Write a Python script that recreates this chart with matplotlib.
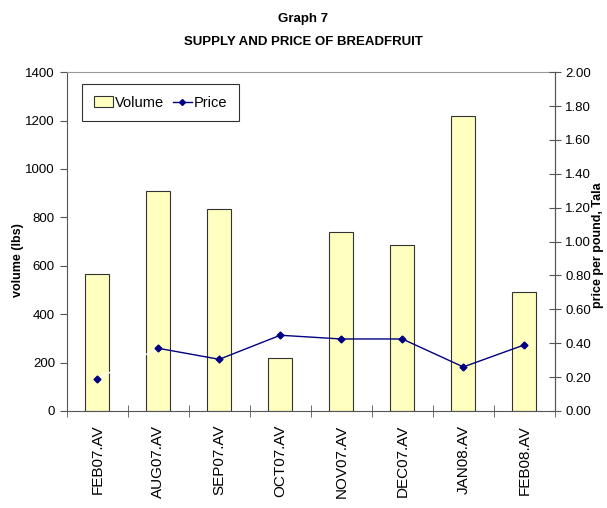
import matplotlib.pyplot as plt
import numpy as np
from matplotlib.lines import Line2D

months = ['FEB07.AV', 'AUG07.AV', 'SEP07.AV', 'OCT07.AV', 'NOV07.AV', 'DEC07.AV', 'JAN08.AV', 'FEB08.AV']
volume = [565, 908, 834, 219, 739, 686, 1220, 493]
price = [0.19, 0.37, 0.305, 0.447, 0.425, 0.425, 0.26, 0.39]

plt.rcParams['font.family'] = ['Liberation Sans', 'DejaVu Sans']

fig = plt.figure(figsize=(6.07, 5.08), dpi=100)
ax = fig.add_axes([0.110, 0.191, 0.804, 0.667])
x = np.arange(len(months))

bars = ax.bar(x, volume, width=0.4, color='#FFFFC0', edgecolor='#333333', linewidth=0.8, label='Volume')
ax.set_xlim(-0.5, len(months) - 0.5)
ax.set_ylim(0, 1400)
ax.set_yticks(range(0, 1401, 200))
ax.set_xticks(x)
ax.set_xticklabels(months, rotation=90, fontsize=11)
ax.tick_params(axis='x', length=0, pad=10)
ax.set_xticks(np.arange(-0.5, len(months), 1), minor=True)
ax.tick_params(axis='x', which='minor', direction='inout', length=8, color='#555555')
ax.tick_params(axis='y', direction='out', length=5, labelsize=9.5, color='#555555')
for s in ['left', 'bottom', 'right']:
    ax.spines[s].set_color('#555555')
ax.spines['top'].set_color('#999999')

ax2 = ax.twinx()
ax2.plot(x[:2], price[:2], color='white', linewidth=1)
ax2.plot(x[1:], price[1:], color='#000080', linewidth=1)
ax2.plot(x, price, linestyle='none', marker='D', markersize=3.5, color='#000080')
ax2.set_ylim(0, 2.0)
ax2.set_yticks(np.arange(0, 2.01, 0.2))
ax2.set_yticklabels([f'{v:.2f}' for v in np.arange(0, 2.01, 0.2)])
ax2.tick_params(axis='y', direction='inout', length=8, labelsize=9.5, color='#555555')
for s in ax2.spines.values():
    s.set_visible(False)
ax2.spines['right'].set_visible(True)
ax2.spines['right'].set_color('#555555')

price_handle = Line2D([], [], color='#000080', marker='D', markersize=3, linewidth=1)
leg = ax.legend([bars, price_handle], ['Volume', 'Price'], loc='upper left',
                bbox_to_anchor=(0.031, 0.965), ncol=2, fontsize=10.5, fancybox=False,
                edgecolor='#333333', framealpha=1, handlelength=1.3, columnspacing=0.6,
                handletextpad=0.15, borderpad=0.8, borderaxespad=0)
leg.get_frame().set_linewidth(0.8)
leg.set_zorder(5)

fig.text(0.5, 0.962, 'Graph 7', ha='center', va='center', fontsize=9.5, fontweight='bold')
fig.text(0.5, 0.918, 'SUPPLY AND PRICE OF BREADFRUIT', ha='center', va='center', fontsize=9.5, fontweight='bold')
fig.text(18 / 607, 1 - 260 / 508, 'volume (lbs)', rotation=90, ha='center', va='center',
         fontsize=9, fontweight='bold')
fig.text(598 / 607, 1 - 245 / 508, 'price per pound, Tala', rotation=90, ha='center', va='center',
         fontsize=9, fontweight='bold')

fig.savefig('out.png', dpi=100)
